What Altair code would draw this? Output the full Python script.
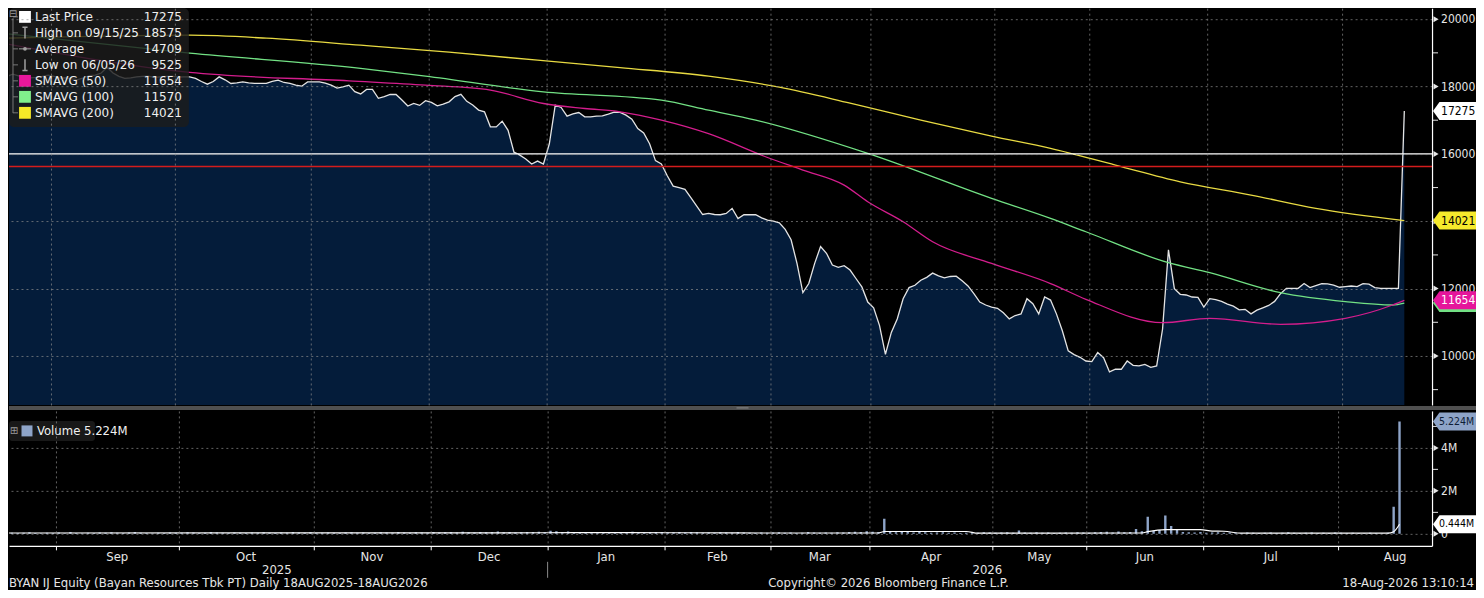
import altair as alt
import pandas as pd

FONT = "DejaVu Sans Condensed, DejaVu Sans, sans-serif"
LFONT = "DejaVu Sans, sans-serif"
SYM = "DejaVu Sans"

# ---------------- data ----------------
# daily last price, one value per trading day (18 Aug 2025 .. 18 Aug 2026)
price = [
    18270, 18300, 18367, 18320, 18280, 18260, 18270, 18300, 18337, 18300,
    18250, 18260, 18230, 18207, 18260, 18320, 18337, 18400, 18575, 18400,
    18300, 18240, 18260, 18287, 18300, 18310, 18270, 18287, 18300, 18310,
    18280, 18287, 18287, 18240, 18150, 18070, 18150, 18287, 18200, 18091,
    18110, 18138, 18110, 18091, 18091, 18091, 18150, 18189, 18120, 18091,
    18040, 18011, 18138, 18138, 18138, 18100, 18041, 17952, 17990, 18041,
    17850, 17780, 17913, 17913, 17650, 17700, 17764, 17764, 17600, 17420,
    17500, 17440, 17580, 17530, 17426, 17480, 17545, 17700, 17770, 17560,
    17450, 17300, 17248, 16803, 16803, 16972, 16700, 16050, 15964, 15850,
    15700, 15786, 15700, 16300, 17447, 17380, 17121, 17190, 17229, 17100,
    17100, 17121, 17131, 17180, 17240, 17230, 17150, 17030, 16750, 16620,
    16300, 15800, 15700, 15350, 15044, 15000, 14950, 14700, 14450, 14200,
    14234, 14200, 14193, 14230, 14382, 14080, 14193, 14193, 14193, 14100,
    14035, 14005, 13950, 13760, 13450, 12750, 11880, 12150, 12750, 13250,
    13050, 12700, 12632, 12680, 12550, 12300, 12050, 11600, 11430, 10900,
    10050, 10700, 11100, 11700, 12030, 12100, 12250, 12335, 12460, 12380,
    12320, 12360, 12370, 12230, 12080, 11850, 11600, 11513, 11450, 11414,
    11280, 11100, 11200, 11246, 11700, 11550, 11250, 11750, 11660, 11250,
    10750, 10150, 10040, 9960, 9850, 9831, 10100, 9950, 9525, 9605,
    9605, 9850, 9720, 9703, 9750, 9660, 9703, 10800, 13150, 12000,
    11830, 11810, 11750, 11741, 11450, 11700, 11670, 11620, 11540, 11480,
    11370, 11384, 11250, 11360, 11430, 11500, 11620, 11850, 12009, 12009,
    12009, 12150, 12030, 12090, 12150, 12140, 12100, 12040, 12060, 12077,
    12060, 12150, 12130, 12030, 12009, 12009, 12009, 12009, 17275,
]

# daily volume, millions of shares
volume_m = [
    0.06, 0.05, 0.04, 0.05, 0.07, 0.04, 0.03, 0.05, 0.04, 0.06,
    0.03, 0.08, 0.04, 0.03, 0.05, 0.04, 0.06, 0.05, 0.07, 0.05,
    0.04, 0.06, 0.08, 0.05, 0.04, 0.03, 0.05, 0.04, 0.06, 0.05,
    0.05, 0.07, 0.06, 0.04, 0.05, 0.08, 0.06, 0.05, 0.04, 0.06,
    0.05, 0.04, 0.06, 0.05, 0.07, 0.05, 0.04, 0.06, 0.05, 0.08,
    0.06, 0.05, 0.07, 0.04, 0.05, 0.06, 0.05, 0.04, 0.06, 0.07,
    0.05, 0.06, 0.04, 0.05, 0.07, 0.06, 0.05, 0.08, 0.06, 0.05,
    0.07, 0.06, 0.05, 0.09, 0.06, 0.07, 0.08, 0.06, 0.10, 0.07,
    0.06, 0.08, 0.07, 0.09, 0.11, 0.07, 0.08, 0.06, 0.07, 0.09,
    0.08, 0.10, 0.07, 0.14, 0.12, 0.09, 0.11, 0.08, 0.07, 0.06,
    0.08, 0.07, 0.06, 0.07, 0.05, 0.06, 0.08, 0.10, 0.07, 0.06,
    0.07, 0.09, 0.08, 0.06, 0.07, 0.08, 0.06, 0.09, 0.07, 0.05,
    0.06, 0.05, 0.07, 0.06, 0.05, 0.08, 0.06, 0.05, 0.04, 0.06,
    0.05, 0.06, 0.07, 0.05, 0.06, 0.04, 0.05, 0.08, 0.06, 0.05,
    0.06, 0.05, 0.07, 0.06, 0.08, 0.10, 0.09, 0.12, 0.10, 0.08,
    0.70, 0.10, 0.07, 0.13, 0.09, 0.06, 0.08, 0.07, 0.05, 0.06,
    0.07, 0.05, 0.06, 0.04, 0.05, 0.06, 0.05, 0.07, 0.06, 0.05,
    0.06, 0.07, 0.05, 0.16, 0.06, 0.05, 0.07, 0.05, 0.06, 0.04,
    0.05, 0.06, 0.05, 0.07, 0.06, 0.05, 0.07, 0.08, 0.10, 0.06,
    0.11, 0.07, 0.09, 0.23, 0.12, 0.80, 0.14, 0.18, 0.85, 0.37,
    0.20, 0.09, 0.07, 0.06, 0.08, 0.05, 0.06, 0.07, 0.05, 0.06,
    0.05, 0.04, 0.06, 0.05, 0.04, 0.05, 0.06, 0.04, 0.05, 0.07,
    0.05, 0.04, 0.05, 0.06, 0.04, 0.05, 0.04, 0.06, 0.05, 0.04,
    0.05, 0.04, 0.03, 0.05, 0.04, 0.03, 0.05, 1.26, 5.224,
]

# moving averages, read at trading-day indices
sma50_i = [0, 32, 59, 72, 83, 92, 99, 105, 112, 120, 130, 136, 143, 147, 153, 158, 168, 178, 184, 197, 205, 217, 228, 236, 238]
sma50_v = [19300, 18420, 18168, 18041, 17893, 17496, 17348, 17250, 17002, 16600, 15893, 15519, 15073, 14578, 13985, 13391, 12750, 12150, 11682, 10988, 11118, 10940, 11118, 11513, 11654]
sma100_i = [0, 32, 61, 72, 92, 112, 120, 128, 147, 168, 178, 184, 198, 205, 217, 228, 236, 238]
sma100_v = [19583, 18990, 18540, 18308, 17842, 17595, 17299, 17002, 16014, 14679, 14085, 13688, 12768, 12472, 11878, 11612, 11513, 11570]
sma200_i = [0, 17, 32, 45, 61, 76, 91, 105, 120, 132, 144, 156, 168, 178, 189, 200, 212, 223, 238]
sma200_v = [19435, 19494, 19524, 19435, 19227, 19020, 18782, 18560, 18308, 17981, 17507, 17002, 16527, 16162, 15667, 15171, 14777, 14382, 14021]
volma_i = [0, 92, 100, 130, 149, 150, 164, 166, 194, 195, 198, 204, 206, 208, 211, 236, 237, 238]
volma_v = [0.04, 0.05, 0.06, 0.04, 0.04, 0.11, 0.11, 0.03, 0.04, 0.10, 0.20, 0.20, 0.13, 0.12, 0.03, 0.03, 0.10, 0.444]

# month boundaries (trading-day index) and names
month_names = ["Sep", "Oct", "Nov", "Dec", "Jan", "Feb", "Mar", "Apr", "May", "Jun", "Jul", "Aug"]
month_start = [8.5, 29.5, 52.5, 72.5, 92.5, 112.5, 130.5, 147.5, 168.5, 184.5, 204.5, 227.5]
month_end_last = 247
year_names = ["2025", "2026"]

price_ticks = [10000, 12000, 14000, 16000, 18000, 20000]
price_tick_labels = ["10000", "12000", "14000", "16000", "18000", "20000"]
price_minor = [9000, 11000, 13000, 15000, 17000, 19000]
vol_ticks = [0, 2, 4]
vol_tick_labels = ["0", "2M", "4M"]
vol_minor = [1, 3, 5]
hline_white = 16000
hline_red = 15625

legend_labels = ["Last Price", "High on 09/15/25", "Average", "Low on 06/05/26",
                 "SMAVG (50)", "SMAVG (100)", "SMAVG (200)"]
legend_values = ["17275", "18575", "14709", "9525", "11654", "11570", "14021"]

price_tag_values = [11570, 11654, 14021, 17275]
price_tag_text = ["", "11654", "14021", "17275"]
vol_tag_values = [5.224, 0.444]
vol_tag_text = ["5.224M", "0.444M"]

footer_left = "BYAN IJ Equity (Bayan Resources Tbk PT) Daily 18AUG2025-18AUG2026"
footer_mid = "Copyright\u00a9 2026 Bloomberg Finance L.P."
footer_right = "18-Aug-2026 13:10:14"

# ---------------- styles / geometry ----------------
W, H1, H2 = 1424, 397, 135
RIGHT = 44
X_DOM = [1.36, 242.7]
P_DOM = [8546, 20326]
V_DOM = [-0.558, 5.72]

C_SMA50, C_SMA100, C_SMA200 = "#d41d8d", "#72e184", "#e8da42"
C_AREA = "#041c3a"
C_TXT = "#e6e6e6"
FS = 13
FS_AX = 12
FS_VTAG = 10.5

xs = alt.Scale(domain=X_DOM, nice=False, zero=False)
ps = alt.Scale(domain=P_DOM, nice=False, zero=False)
vs = alt.Scale(domain=V_DOM, nice=False, zero=False)

GRID = dict(grid=True, gridColor="#8c8c8c", gridDash=[2, 3], gridWidth=0.7)
AXL = dict(labels=False, ticks=False, tickSize=0, domain=True, domainColor="#ffffff",
           domainWidth=1.2, title=None, zindex=1)

x_axis_p = alt.Axis(values=month_start, labels=False, ticks=False, domain=False,
                    title=None, zindex=1, **GRID)
y_axis_p = alt.Axis(orient="right", values=price_ticks, **AXL, **GRID)
x_axis_v = alt.Axis(values=month_start, labels=False, ticks=True, tickSize=4,
                    tickColor="#ffffff", tickWidth=1, domain=True, domainColor="#ffffff",
                    domainWidth=1.2, title=None, zindex=1, **GRID)
y_axis_v = alt.Axis(orient="right", values=vol_ticks, **AXL, **GRID)


def xp(f="i"):
    return alt.X(f"{f}:Q", scale=xs, axis=x_axis_p)


def yp(f="v"):
    return alt.Y(f"{f}:Q", scale=ps, axis=y_axis_p)


def xv(f="i"):
    return alt.X(f"{f}:Q", scale=xs, axis=x_axis_v)


def yv(f="m"):
    return alt.Y(f"{f}:Q", scale=vs, axis=y_axis_v)


def one():
    return alt.Chart(pd.DataFrame({"a": [0]}))


TAG = "M -1 0 L -0.7 -0.42 L 1 -0.42 L 1 0.42 L -0.7 0.42 Z"
TAG_SIZE = (RIGHT - 1) ** 2
TAG_X = W + 1 + (RIGHT - 1) / 2
LAB_X = W + 9

# ---------------- price panel ----------------
price_df = pd.DataFrame({"i": list(range(len(price))), "v": price})
sma_df = pd.concat([
    pd.DataFrame({"i": sma200_i, "v": sma200_v, "s": "SMAVG (200)"}),
    pd.DataFrame({"i": sma100_i, "v": sma100_v, "s": "SMAVG (100)"}),
    pd.DataFrame({"i": sma50_i, "v": sma50_v, "s": "SMAVG (50)"}),
])

area = alt.Chart(price_df).mark_area(color=C_AREA, clip=True).encode(x=xp(), y=yp())
pline = alt.Chart(price_df).mark_line(color="#e4e4e4", strokeWidth=1.3, clip=True).encode(x=xp(), y=yp())
sma = alt.Chart(sma_df).mark_line(strokeWidth=1.3, interpolate="monotone", clip=True).encode(
    x=xp(), y=yp(),
    color=alt.Color("s:N", scale=alt.Scale(domain=["SMAVG (200)", "SMAVG (100)", "SMAVG (50)"],
                                           range=[C_SMA200, C_SMA100, C_SMA50]), legend=None),
)
hl_w = alt.Chart(pd.DataFrame({"v": [hline_white]})).mark_rule(color="#ffffff", strokeWidth=1.3).encode(y=yp())
hl_r = alt.Chart(pd.DataFrame({"v": [hline_red]})).mark_rule(color="#d41c1c", strokeWidth=1.3).encode(y=yp())

ptri = alt.Chart(pd.DataFrame({"v": price_ticks})).mark_point(
    shape="triangle-right", filled=True, size=36, color=C_TXT, opacity=1).encode(x=alt.value(W + 4), y=yp())
pminor = alt.Chart(pd.DataFrame({"v": price_minor})).mark_rule(color=C_TXT, strokeWidth=1).encode(
    x=alt.value(W), x2=alt.value(W + 6), y=yp())
plab = alt.Chart(pd.DataFrame({"v": price_ticks, "t": price_tick_labels})).mark_text(
    font=FONT, fontSize=FS_AX, color=C_TXT, align="left", baseline="middle").encode(
    x=alt.value(LAB_X), y=yp(), text="t:N")

ptag_bg = {11570: C_SMA100, 11654: "#e5159b", 14021: "#f6ea2c", 17275: "#ffffff"}
ptag_fg = {11570: "#000000", 11654: "#ffffff", 14021: "#000000", 17275: "#000000"}
ptag_df = pd.DataFrame({"v": price_tag_values, "t": price_tag_text})
ptag_df["bg"] = ptag_df["v"].map(ptag_bg)
ptag_df["fg"] = ptag_df["v"].map(ptag_fg)
ptag = alt.Chart(ptag_df).mark_point(shape=TAG, filled=True, size=TAG_SIZE, opacity=1, strokeWidth=0).encode(
    x=alt.value(TAG_X), y=yp(), color=alt.Color("bg:N", scale=None))
ptag_t = alt.Chart(ptag_df).mark_text(font=FONT, fontSize=FS_AX, align="left", baseline="middle").encode(
    x=alt.value(LAB_X), y=yp(), text="t:N", color=alt.Color("fg:N", scale=None))

# legend box
leg_df = pd.DataFrame({"label": legend_labels, "val": legend_values})
leg_df["ry"] = [8.7 + 16 * k for k in range(len(leg_df))]
RY = alt.Y("ry:Q", scale=None, axis=None)
leg_box = one().mark_rect(color="#1c1c1c", opacity=0.82, cornerRadius=5).encode(
    x=alt.value(0), x2=alt.value(180), y=alt.value(0), y2=alt.value(119))
leg_txt = alt.Chart(leg_df).mark_text(font=LFONT, fontSize=12, align="left", baseline="middle",
                                      color="#f0f0f0").encode(x=alt.value(26), y=RY, text="label:N")
leg_val = alt.Chart(leg_df).mark_text(font=LFONT, fontSize=12, align="right", baseline="middle",
                                      color="#f0f0f0").encode(x=alt.value(173), y=RY, text="val:N")
leg_tree = one().mark_rule(color="#777777").encode(x=alt.value(4), y=alt.value(10), y2=alt.value(105))
leg_branch = alt.Chart(leg_df).mark_rule(color="#777777").encode(x=alt.value(4), x2=alt.value(9), y=RY)
leg_minus = one().mark_text(font=SYM, fontSize=10, color="#9a9a9a", align="center", baseline="middle").encode(
    x=alt.value(4), y=alt.value(6), text=alt.value("\u229f"))
sq_df = pd.DataFrame({"ry": [leg_df["ry"][0], leg_df["ry"][4], leg_df["ry"][5], leg_df["ry"][6]],
                      "c": ["#ffffff", "#e8179c", "#80f08c", "#f6e928"]})
leg_sq = alt.Chart(sq_df).mark_point(shape="square", filled=True, size=140, opacity=1).encode(
    x=alt.value(16), y=RY, color=alt.Color("c:N", scale=None))
hi_df = leg_df.iloc[[1]]
lo_df = leg_df.iloc[[3]]
av_df = leg_df.iloc[[2]]
leg_hi = alt.Chart(hi_df).mark_point(shape="M -0.45 -1 L 0.45 -1 M 0 -1 L 0 1", filled=False, size=130,
                                     color="#a0a0a0", strokeWidth=1.5, opacity=1).encode(x=alt.value(16), y=RY)
leg_lo = alt.Chart(lo_df).mark_point(shape="M 0 -1 L 0 1 M -0.45 1 L 0.45 1", filled=False, size=130,
                                     color="#a0a0a0", strokeWidth=1.5, opacity=1).encode(x=alt.value(16), y=RY)
leg_av_l = alt.Chart(av_df).mark_rule(color="#a0a0a0").encode(x=alt.value(10), x2=alt.value(22), y=RY)
leg_av_d = alt.Chart(av_df).mark_point(shape="circle", filled=True, size=14, color="#a0a0a0", opacity=1).encode(
    x=alt.value(16), y=RY)

band = one().mark_rect(color="#505050").encode(
    x=alt.value(0), x2=alt.value(W + RIGHT), y=alt.value(H1 + 1), y2=alt.value(H1 + 5))
handle = one().mark_rect(color="#8a8a8a").encode(
    x=alt.value(728), x2=alt.value(740), y=alt.value(H1 + 2.5), y2=alt.value(H1 + 3.5))

price_chart = alt.layer(
    area, pline, sma, hl_w, hl_r, ptri, pminor, plab, ptag, ptag_t,
    leg_box, leg_tree, leg_branch, leg_minus, leg_sq, leg_hi, leg_lo, leg_av_l, leg_av_d,
    leg_txt, leg_val, band, handle,
).properties(width=W, height=H1)

# ---------------- volume panel ----------------
vol_df = pd.DataFrame({"i": list(range(len(volume_m))), "m": volume_m})
vma_df = pd.DataFrame({"i": volma_i, "m": volma_v})

bars = alt.Chart(vol_df).mark_bar(color="#8ea4c8", size=2.4, orient="vertical", clip=True).encode(x=xv(), y=yv())
vma = alt.Chart(vma_df).mark_line(color="#ffffff", strokeWidth=1.2, interpolate="monotone", clip=True).encode(
    x=xv(), y=yv())
vtri = alt.Chart(pd.DataFrame({"m": vol_ticks})).mark_point(
    shape="triangle-right", filled=True, size=36, color=C_TXT, opacity=1).encode(x=alt.value(W + 4), y=yv())
vminor = alt.Chart(pd.DataFrame({"m": vol_minor})).mark_rule(color=C_TXT, strokeWidth=1).encode(
    x=alt.value(W), x2=alt.value(W + 6), y=yv())
vlab = alt.Chart(pd.DataFrame({"m": vol_ticks, "t": vol_tick_labels})).mark_text(
    font=FONT, fontSize=FS_AX, color=C_TXT, align="left", baseline="middle").encode(
    x=alt.value(LAB_X), y=yv(), text="t:N")
vtag_df = pd.DataFrame({"m": vol_tag_values, "t": vol_tag_text})
vtag_df["bg"] = ["#8ea4c8", "#ffffff"]
vtag_df["fg"] = ["#0d1d36", "#000000"]
vtag = alt.Chart(vtag_df).mark_point(shape=TAG, filled=True, size=TAG_SIZE, opacity=1, strokeWidth=0).encode(
    x=alt.value(TAG_X), y=yv(), color=alt.Color("bg:N", scale=None))
vtag_t = alt.Chart(vtag_df).mark_text(font=FONT, fontSize=FS_VTAG, align="left", baseline="middle").encode(
    x=alt.value(W + 7), y=yv(), text="t:N", color=alt.Color("fg:N", scale=None))

vleg_box = one().mark_rect(color="#1c1c1c", opacity=0.85, cornerRadius=3).encode(
    x=alt.value(0), x2=alt.value(86), y=alt.value(10), y2=alt.value(30))
vleg_plus = one().mark_text(font=SYM, fontSize=10, color="#9a9a9a", align="center", baseline="middle").encode(
    x=alt.value(5), y=alt.value(20), text=alt.value("\u229e"))
vleg_sq = one().mark_point(shape="square", filled=True, size=121, color="#8ea4c8", opacity=1).encode(
    x=alt.value(18), y=alt.value(20))
vleg_txt = one().mark_text(font=FONT, fontSize=FS, color="#f0f0f0", align="left", baseline="middle").encode(
    x=alt.value(28), y=alt.value(20), text=alt.value("Volume 5.224M"))

edges = month_start + [month_end_last]
mon_df = pd.DataFrame({"i": [(edges[k] + edges[k + 1]) / 2 for k in range(len(month_names))],
                       "name": month_names})
months = alt.Chart(mon_df).mark_text(font=FONT, fontSize=FS, color=C_TXT, baseline="middle").encode(
    x=xv(), y=alt.value(H2 + 11), text="name:N")
yr_df = pd.DataFrame({"i": [month_start[4] / 2, (month_start[4] + X_DOM[1]) / 2],
                      "name": year_names})
years = alt.Chart(yr_df).mark_text(font=FONT, fontSize=FS, color=C_TXT, baseline="middle").encode(
    x=xv(), y=alt.value(H2 + 24), text="name:N")
ysep = alt.Chart(pd.DataFrame({"i": [month_start[4]]})).mark_rule(color="#8c8c8c").encode(
    x=xv(), y=alt.value(H2 + 16), y2=alt.value(H2 + 32))
FY = H2 + 37
f_left = one().mark_text(font=FONT, fontSize=FS, color=C_TXT, align="left", baseline="middle").encode(
    x=alt.value(0), y=alt.value(FY), text=alt.value(footer_left))
f_mid = one().mark_text(font=FONT, fontSize=FS, color=C_TXT, align="center", baseline="middle").encode(
    x=alt.value(880), y=alt.value(FY), text=alt.value(footer_mid))
f_right = one().mark_text(font=FONT, fontSize=FS, color=C_TXT, align="right", baseline="middle").encode(
    x=alt.value(W + RIGHT - 2), y=alt.value(FY), text=alt.value(footer_right))

vol_chart = alt.layer(
    bars, vma, vtri, vminor, vlab, vtag, vtag_t, vleg_box, vleg_plus, vleg_sq, vleg_txt,
    months, years, ysep, f_left, f_mid, f_right,
).properties(width=W, height=H2)

chart = alt.vconcat(price_chart, vol_chart, spacing=6, bounds="flush").properties(
    background="#000000", padding=0
).configure_view(stroke=None)

chart.save("out.html", embed_options={"renderer": "svg", "actions": False})
